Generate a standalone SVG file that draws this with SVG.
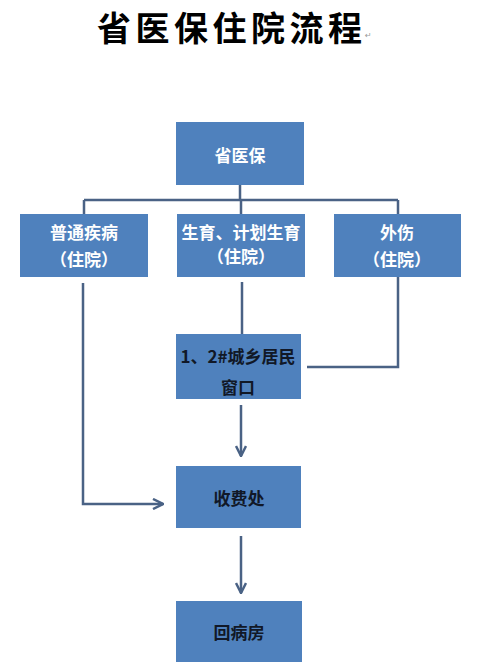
<svg xmlns="http://www.w3.org/2000/svg" width="497" height="672" viewBox="0 0 497 672">
<style>
.box{fill:#4f81bd;}
.t{font-family:"Noto Sans CJK SC","Noto Sans",sans-serif;font-size:17px;text-anchor:middle;dominant-baseline:central;}
.w{fill:#ffffff;font-weight:bold;}
.d{fill:#111827;font-weight:bold;}
.ln{fill:none;stroke:#4a6285;stroke-width:2.5;}
</style>
<defs>
<marker id="ah" viewBox="0 0 10 10" refX="9" refY="5" markerWidth="5" markerHeight="5" orient="auto" markerUnits="strokeWidth">
<path d="M1,1 L9,5 L1,9" fill="none" stroke="#4a6285" stroke-width="2"/>
</marker>
</defs>
<rect width="497" height="672" fill="#ffffff"/>
<text x="97" y="41" font-family="&quot;Noto Sans CJK SC&quot;,sans-serif" font-size="34" font-weight="bold" fill="#000" letter-spacing="4.5">省医保住院流程</text>
<text x="365" y="38" font-family="&quot;DejaVu Sans&quot;,sans-serif" font-size="8" fill="#999">↵</text>
<g id="connectors">
<path class="ln" d="M240,185 V200 M84,200 H398 M84,200 V214 M241,200 V214 M398,200 V214"/>
<path class="ln" d="M242,282 V334"/>
<path class="ln" d="M398,277 V367 H307"/>
<path class="ln" d="M83,283 V504 H163" marker-end="url(#ah)"/>
<path class="ln" d="M241,405 V456" marker-end="url(#ah)"/>
<path class="ln" d="M241,536 V593" marker-end="url(#ah)"/>
</g>
<g id="n-top"><rect class="box" x="176" y="122" width="128" height="63"/><text class="t w" x="240" y="154" font-size="19">省医保</text></g>
<g id="n-left"><rect class="box" x="20" y="214" width="128" height="63"/><text class="t w" x="84" y="231">普通疾病</text><text class="t w" x="84" y="258">（住院）</text></g>
<g id="n-mid"><rect class="box" x="177" y="214" width="128" height="63"/><text class="t w" x="241" y="231">生育、计划生育</text><text class="t w" x="241" y="255">（住院）</text></g>
<g id="n-right"><rect class="box" x="334" y="214" width="127" height="63"/><text class="t w" x="397" y="231">外伤</text><text class="t w" x="397" y="258">（住院）</text></g>
<g id="n-window"><rect class="box" x="176" y="334" width="125" height="65"/><text class="t d" x="238" y="355">1、2#城乡居民</text><text class="t d" x="238" y="386">窗口</text></g>
<g id="n-pay"><rect class="box" x="176" y="466" width="125" height="62"/><text class="t d" x="239" y="497">收费处</text></g>
<g id="n-ward"><rect class="box" x="176" y="601" width="126" height="61"/><text class="t d" x="239" y="631">回病房</text></g>
</svg>
